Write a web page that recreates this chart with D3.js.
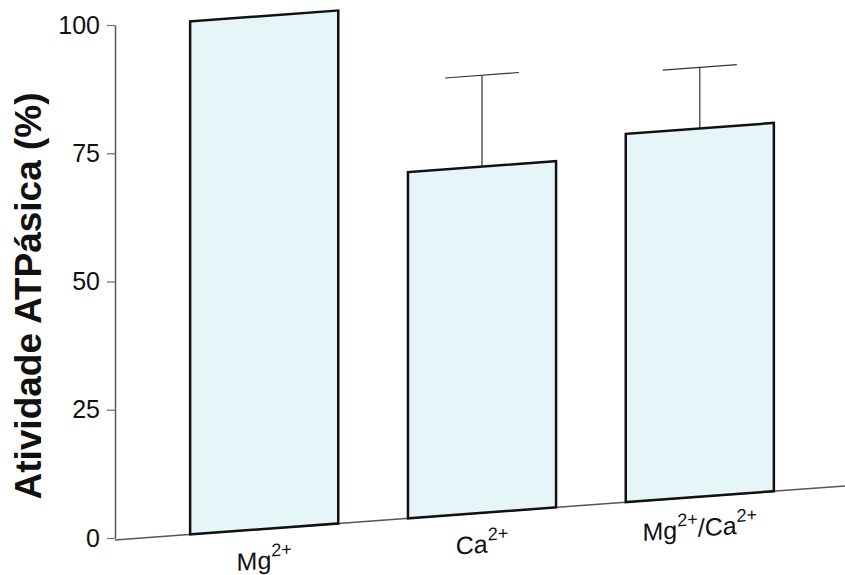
<!DOCTYPE html>
<html>
<head>
<meta charset="utf-8">
<script src="https://cdn.jsdelivr.net/npm/d3@7"></script>
<style>
  html, body { margin: 0; padding: 0; background: #ffffff; }
  svg { display: block; }
  text { font-family: "Liberation Sans", Arial, sans-serif; }
</style>
</head>
<body>
<svg id="chart" width="845" height="575"></svg>
<script>
// Relative ATPase activity (%) for each divalent cation condition
const categories = ["Mg2+", "Ca2+", "Mg2+/Ca2+"];
const meanValues = [100, 67.5, 71.8];
const sdValues = [0, 17.8, 11.9];
const yTicks = [0, 25, 50, 75, 100];
const yTitle = "Atividade ATPásica (%)";

const W = 845, H = 575;
const axisX = 115;
const svg = d3.select("#chart");

const x = d3.scaleBand()
  .domain(categories)
  .range([axisX, 849])
  .paddingInner(0.32)
  .paddingOuter(0.345);

const y = d3.scaleLinear().domain([0, 100]).range([538, 25]);

// y axis
const yAxis = svg.append("g")
  .attr("transform", `translate(${axisX},0)`)
  .call(d3.axisLeft(y).tickValues(yTicks).tickSize(8).tickPadding(7).tickSizeOuter(0));
yAxis.select(".domain").attr("stroke", "#555").attr("stroke-width", 1.5);
yAxis.selectAll(".tick line").attr("stroke", "#777").attr("stroke-width", 1.3);
yAxis.selectAll(".tick text")
  .attr("font-size", 25)
  .attr("fill", "#111")
  .style("font-family", "'Liberation Sans', Arial, sans-serif");

// y axis title
svg.append("text")
  .attr("transform", `translate(41,296) rotate(-90)`)
  .attr("text-anchor", "middle")
  .attr("font-size", 37)
  .attr("font-weight", "bold")
  .attr("fill", "#111")
  .text(yTitle);

// plot area is drawn with a slight shear so the baseline rises to the right
const slope = 0.074;
const skewDeg = -Math.atan(slope) * 180 / Math.PI;
const plot = svg.append("g")
  .attr("transform",
    `translate(0,2) translate(${axisX},${y(0)}) skewY(${skewDeg}) translate(${-axisX},${-y(0)})`);

// baseline
plot.append("line")
  .attr("x1", axisX).attr("x2", W + 5)
  .attr("y1", y(0)).attr("y2", y(0))
  .attr("stroke", "#555").attr("stroke-width", 1.5);

const rows = categories.map((c, i) => ({ c, v: meanValues[i], sd: sdValues[i] }));

// error bars (upper whisker only)
const eb = plot.selectAll(".err").data(rows.filter(d => d.sd > 0)).enter().append("g").attr("class", "err");
eb.append("line")
  .attr("x1", d => x(d.c) + x.bandwidth() / 2)
  .attr("x2", d => x(d.c) + x.bandwidth() / 2)
  .attr("y1", d => y(d.v))
  .attr("y2", d => y(d.v + d.sd))
  .attr("stroke", "#333").attr("stroke-width", 1.2);
eb.append("line")
  .attr("x1", d => x(d.c) + x.bandwidth() * 0.25)
  .attr("x2", d => x(d.c) + x.bandwidth() * 0.75)
  .attr("y1", d => y(d.v + d.sd))
  .attr("y2", d => y(d.v + d.sd))
  .attr("stroke", "#333").attr("stroke-width", 1.2);

// bars
plot.selectAll(".bar").data(rows).enter().append("rect")
  .attr("class", "bar")
  .attr("x", d => x(d.c))
  .attr("y", d => y(d.v))
  .attr("width", x.bandwidth())
  .attr("height", d => y(0) - y(d.v))
  .attr("fill", "#e6f5f7")
  .attr("stroke", "#111")
  .attr("stroke-width", 2.5);

// category labels with superscript charges
const labels = plot.selectAll(".cat").data(categories).enter().append("text")
  .attr("class", "cat")
  .attr("x", d => x(d) + x.bandwidth() / 2)
  .attr("y", y(0) + 40)
  .attr("text-anchor", "middle")
  .attr("font-size", 25)
  .attr("fill", "#111");
labels.each(function (d) {
  const t = d3.select(this);
  const parts = d.split(/(\d\+)/).filter(p => p.length);
  let raised = false;
  parts.forEach(p => {
    const sup = /^\d\+$/.test(p);
    const ts = t.append("tspan").text(p);
    if (sup) {
      ts.attr("font-size", 18).attr("dy", raised ? 0 : -12);
      raised = true;
    } else {
      ts.attr("dy", raised ? 12 : 0);
      raised = false;
    }
  });
});
</script>
</body>
</html>
